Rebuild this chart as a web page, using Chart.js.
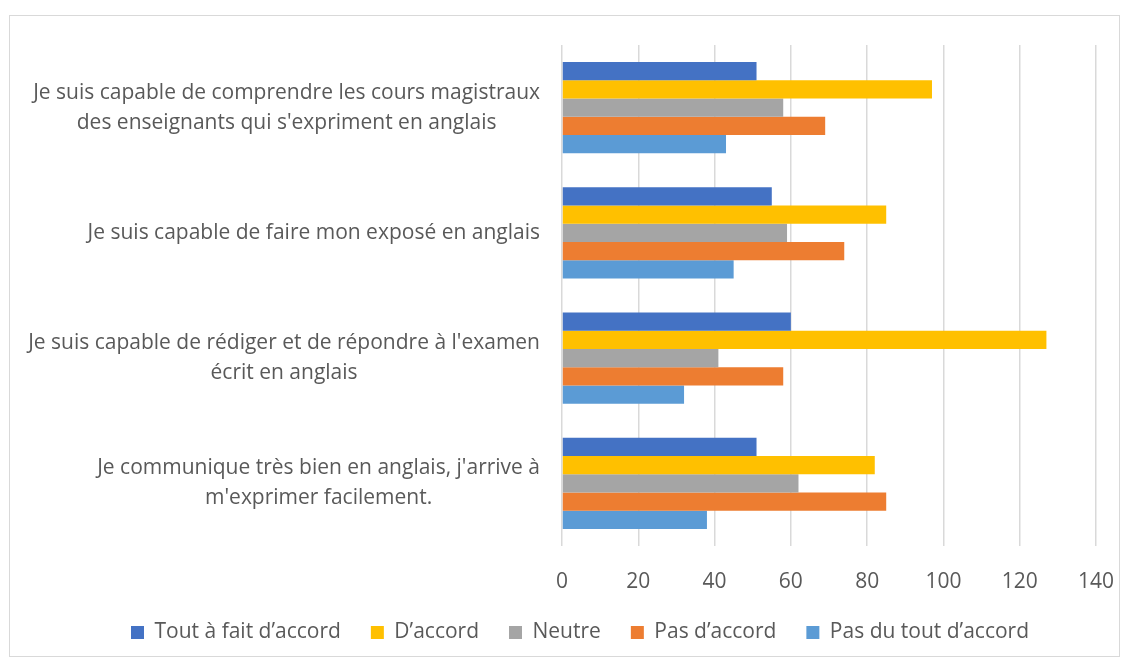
<!DOCTYPE html>
<html>
<head>
<meta charset="utf-8">
<script src="https://cdn.jsdelivr.net/npm/chart.js@4"></script>
<style>
  html, body { margin: 0; padding: 0; background: #fff; }
  #wrap { position: relative; width: 1129px; height: 659px; }
  #frame { position: absolute; left: 9px; top: 15px; width: 1109px; height: 640px; border: 1px solid #d9d9d9; pointer-events: none; }
</style>
</head>
<body>
<div id="wrap">
  <canvas id="chart1" width="1129" height="659"></canvas>
  <div id="frame"></div>
</div>
<script>
const categories = [
  ['Je suis capable de comprendre les cours magistraux', "des enseignants qui s'expriment en anglais"],
  ['Je suis capable de faire mon exposé en anglais'],
  ["Je suis capable de rédiger et de répondre à l'examen", 'écrit en anglais'],
  ["Je communique très bien en anglais, j'arrive à", "m'exprimer facilement."]
];
const toutAFait = [51, 55, 60, 51];
const dAccord = [97, 85, 127, 82];
const neutre = [58, 59, 41, 62];
const pasDAccord = [69, 74, 58, 85];
const pasDuTout = [43, 45, 32, 38];
const xTicks = [0, 20, 40, 60, 80, 100, 120, 140];

const FONT = 'Open Sans';
const GREY = '#595959';

// draws the category labels: block right-aligned, lines centered inside it (like Excel)
const catLabels = {
  id: 'catLabels',
  afterDraw(chart) {
    const ctx = chart.ctx;
    const y = chart.scales.y;
    ctx.save();
    ctx.font = '21px "' + FONT + '"';
    ctx.fillStyle = GREY;
    ctx.textAlign = 'center';
    ctx.textBaseline = 'middle';
    categories.forEach(function(lines, i) {
      const cy = y.getPixelForValue(i);
      const w = Math.max.apply(null, lines.map(function(l) { return ctx.measureText(l).width; }));
      const cx = 540 - w / 2;
      const lh = 30;
      lines.forEach(function(l, j) {
        ctx.fillText(l, cx, cy + (j - (lines.length - 1) / 2) * lh);
      });
    });
    ctx.restore();
  }
};

const ctx1 = document.getElementById('chart1');
new Chart(ctx1, {
  type: 'bar',
  data: {
    labels: categories,
    datasets: [{
      label: 'Tout à fait d’accord',
      data: toutAFait,
      backgroundColor: '#4472C4'
    }, {
      label: 'D’accord',
      data: dAccord,
      backgroundColor: '#FFC000'
    }, {
      label: 'Neutre',
      data: neutre,
      backgroundColor: '#A5A5A5'
    }, {
      label: 'Pas d’accord',
      data: pasDAccord,
      backgroundColor: '#ED7D31'
    }, {
      label: 'Pas du tout d’accord',
      data: pasDuTout,
      backgroundColor: '#5B9BD5'
    }]
  },
  options: {
    indexAxis: 'y',
    responsive: false,
    animation: false,
    categoryPercentage: 0.73,
    barPercentage: 1,
    layout: {
      padding: { top: 45, right: 33, bottom: 6, left: 64 }
    },
    scales: {
      x: {
        min: 0,
        max: 140,
        afterBuildTicks: function(scale) {
          scale.ticks = xTicks.map(function(v) { return { value: v }; });
        },
        afterFit: function(scale) {
          scale.height = 46;
          scale.paddingLeft = 0;
          scale.paddingRight = 0;
        },
        grid: { color: '#d9d9d9', lineWidth: 1.5, drawTicks: false },
        border: { display: false },
        ticks: { color: GREY, padding: 23, font: { family: FONT, size: 21 } }
      },
      y: {
        afterFit: function(scale) { scale.width = 498; },
        grid: { display: false },
        border: { display: false },
        ticks: { display: false }
      }
    },
    plugins: {
      legend: {
        position: 'bottom',
        labels: {
          color: GREY,
          boxWidth: 13,
          boxHeight: 13,
          padding: 30,
          font: { family: FONT, size: 21 }
        }
      },
      tooltip: { enabled: false }
    }
  },
  plugins: [catLabels]
});
</script>
</body>
</html>
